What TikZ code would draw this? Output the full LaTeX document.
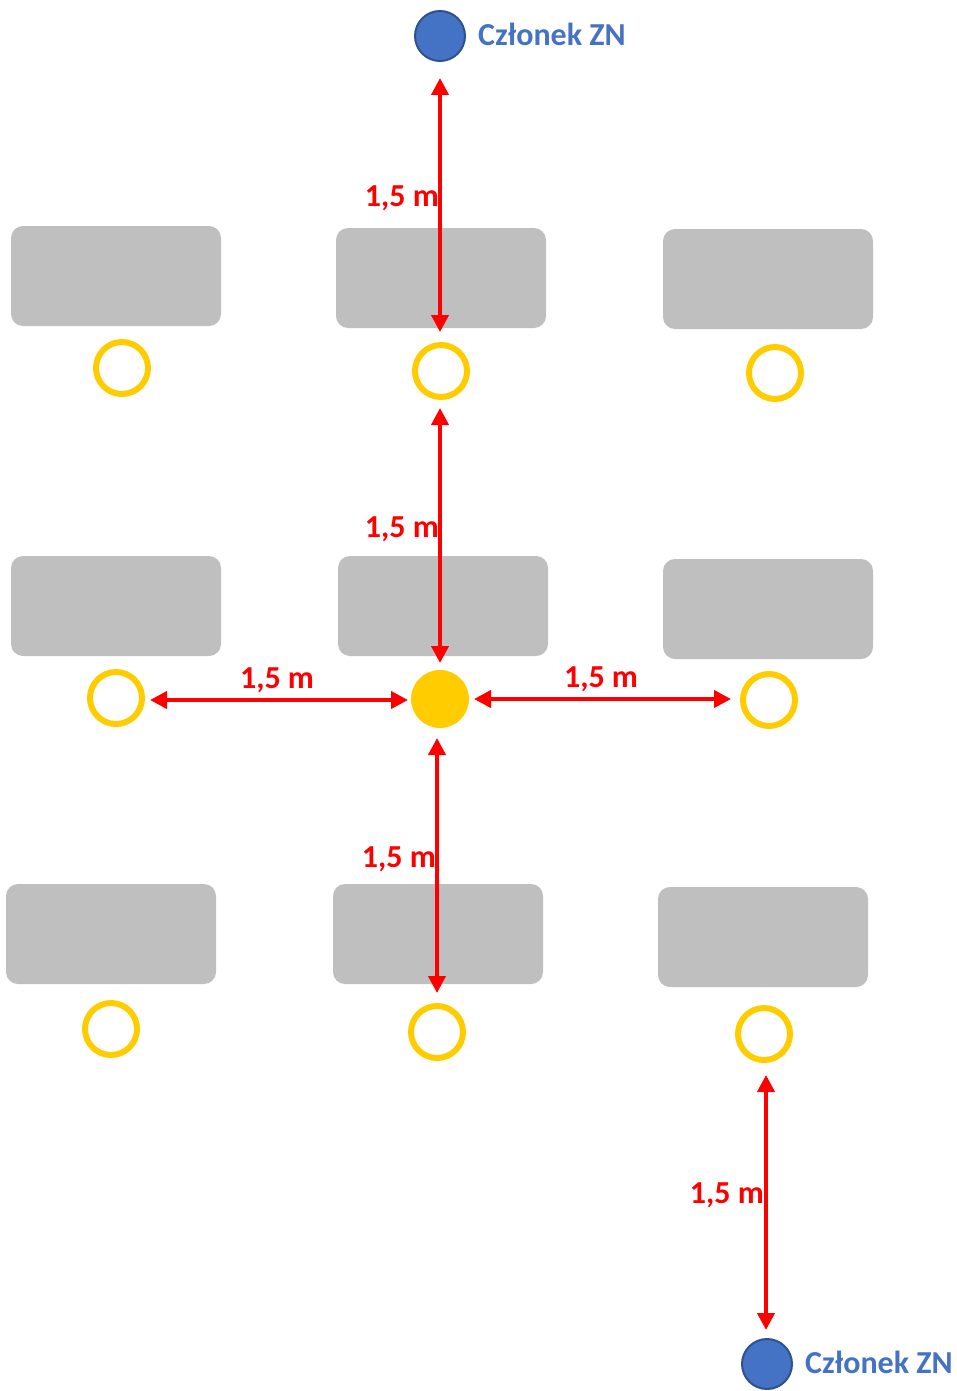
\documentclass[tikz,border=0pt]{standalone}
\usepackage{fontspec}
\setmainfont{Carlito}
\usetikzlibrary{arrows.meta}
\definecolor{tablegray}{HTML}{BFBFBF}
\definecolor{ringy}{HTML}{FFCC00}
\definecolor{zblue}{HTML}{4472C4}
\definecolor{zborder}{HTML}{2F528F}
\definecolor{zred}{HTML}{FF0000}
\tikzset{
  desk/.style={rectangle, rounded corners=12pt, fill=tablegray, minimum width=210pt, minimum height=100pt, inner sep=0pt},
  ring/.style={circle, draw=ringy, line width=6pt, minimum size=52pt, inner sep=0pt},
  center/.style={circle, fill=ringy, minimum size=58pt, inner sep=0pt},
  member/.style={circle, fill=zblue, draw=zborder, line width=2pt, minimum size=50pt, inner sep=0pt},
  membertext/.style={text=zblue, font=\fontsize{32}{38}\selectfont\bfseries, anchor=west, inner sep=0pt},
  dist/.style={text=zred, font=\fontsize{32}{38}\selectfont\bfseries, inner sep=0pt},
  darrow/.style={draw=zred, line width=4pt, {Triangle[length=17pt,width=17pt]}-{Triangle[length=17pt,width=17pt]}}
}
\begin{document}
\begin{tikzpicture}[x=1pt,y=-1pt]
\useasboundingbox (0,0) rectangle (957,1391);
% members
\node[member] (m1) at (440,36) {};
\node[membertext] (m1t) at (478,34) {Członek ZN};
\node[member] (m2) at (767,1364) {};
\node[membertext] (m2t) at (805,1362) {Członek ZN};
% desks
\node[desk] (d11) at (116,276) {};
\node[desk] (d12) at (441,278) {};
\node[desk] (d13) at (768,279) {};
\node[desk] (d21) at (116,606) {};
\node[desk] (d22) at (443,606) {};
\node[desk] (d23) at (768,609) {};
\node[desk] (d31) at (111,934) {};
\node[desk] (d32) at (438,934) {};
\node[desk] (d33) at (763,937) {};
% seats
\node[ring] (s11) at (122,368) {};
\node[ring] (s12) at (441,371) {};
\node[ring] (s13) at (775,373) {};
\node[ring] (s21) at (116,698) {};
\node[center] (s22) at (440,699) {};
\node[ring] (s23) at (769,700) {};
\node[ring] (s31) at (111,1029) {};
\node[ring] (s32) at (437,1032) {};
\node[ring] (s33) at (764,1034) {};
% arrow end points
\coordinate (a1s) at (440,78);  \coordinate (a1e) at (440,332);
\coordinate (a2s) at (440,408); \coordinate (a2e) at (440,663);
\coordinate (a3s) at (150,700); \coordinate (a3e) at (408,700);
\coordinate (a4s) at (474,699); \coordinate (a4e) at (731,699);
\coordinate (a5s) at (437,738); \coordinate (a5e) at (437,993);
\coordinate (a6s) at (766,1075); \coordinate (a6e) at (766,1330);
\draw[darrow] (a1s) -- (a1e);
\draw[darrow] (a2s) -- (a2e);
\draw[darrow] (a3s) -- (a3e);
\draw[darrow] (a4s) -- (a4e);
\draw[darrow] (a5s) -- (a5e);
\draw[darrow] (a6s) -- (a6e);
% labels
\node[dist, anchor=east] (l1) at (439,198) {1,5 m};
\node[dist, anchor=east] (l2) at (439,529) {1,5 m};
\node[dist] (l3) at (277,680) {1,5 m};
\node[dist] (l4) at (601,679) {1,5 m};
\node[dist, anchor=east] (l5) at (436,859) {1,5 m};
\node[dist, anchor=east] (l6) at (764,1195) {1,5 m};
\end{tikzpicture}
\end{document}
